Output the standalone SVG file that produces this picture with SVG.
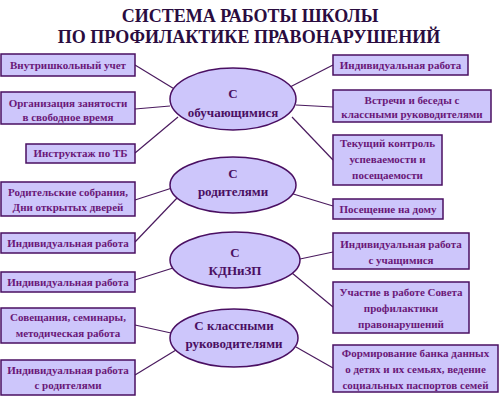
<svg xmlns="http://www.w3.org/2000/svg" width="500" height="400" viewBox="0 0 500 400">
<style>
.title{font-family:"Liberation Serif","Times New Roman",serif;font-weight:bold;font-size:18px;fill:#2a0c40;text-anchor:middle}
.box rect{fill:#cdc6fb;stroke:#4a0f62;stroke-width:1.5}
.box text{font-family:"Liberation Serif","Times New Roman",serif;font-weight:bold;font-size:11px;fill:#6a1878;text-anchor:middle}
.hub ellipse{fill:#cdc6fb;stroke:#4a0f62;stroke-width:1.5}
.hub text{font-family:"Liberation Serif","Times New Roman",serif;font-weight:bold;font-size:13px;fill:#4a0f62;text-anchor:middle}
#connectors line{stroke:#4a1a5e;stroke-width:1.2}
</style>
<rect width="500" height="400" fill="#ffffff"/>
<text class="title" x="250" y="21.5">СИСТЕМА РАБОТЫ ШКОЛЫ</text>
<text class="title" x="249" y="43">ПО ПРОФИЛАКТИКЕ ПРАВОНАРУШЕНИЙ</text>

<g id="connectors">
<line x1="135" y1="65" x2="176" y2="90"/>
<line x1="135" y1="109" x2="170" y2="106"/>
<line x1="135" y1="153" x2="178" y2="117"/>
<line x1="333" y1="65" x2="290" y2="87"/>
<line x1="333" y1="107" x2="296" y2="105"/>
<line x1="333" y1="160" x2="292" y2="117"/>
<line x1="135" y1="200" x2="172" y2="188"/>
<line x1="135" y1="242" x2="178" y2="197"/>
<line x1="333" y1="206" x2="290" y2="193"/>
<line x1="135" y1="280" x2="173" y2="268"/>
<line x1="333" y1="252" x2="300" y2="259"/>
<line x1="333" y1="307" x2="292" y2="273"/>
<line x1="135" y1="325" x2="171" y2="333"/>
<line x1="135" y1="375" x2="176" y2="350"/>
<line x1="333" y1="368" x2="296" y2="347"/>
</g>

<g id="hub-students" class="hub"><ellipse cx="233" cy="99" rx="63" ry="31"/><text x="233" y="98">С</text><text x="233" y="117">обучающимися</text></g>
<g id="hub-parents" class="hub"><ellipse cx="233" cy="185" rx="63" ry="28"/><text x="233" y="178">С</text><text x="233" y="196">родителями</text></g>
<g id="hub-kdn" class="hub"><ellipse cx="235" cy="260" rx="65" ry="28"/><text x="235" y="257">С</text><text x="235" y="275">КДНиЗП</text></g>
<g id="hub-teachers" class="hub"><ellipse cx="234" cy="338" rx="64" ry="29"/><text x="234" y="330">С классными</text><text x="234" y="348">руководителями</text></g>

<g id="l1" class="box"><rect x="1" y="54" width="134" height="22"/><text x="68" y="69">Внутришкольный учет</text></g>
<g id="l2" class="box"><rect x="1" y="92" width="134" height="32"/><text x="68" y="107">Организация занятости</text><text x="68" y="121">в свободное время</text></g>
<g id="l3" class="box"><rect x="26" y="144" width="109" height="19"/><text x="80.5" y="157">Инструктаж по ТБ</text></g>
<g id="l4" class="box"><rect x="1" y="182" width="134" height="34"/><text x="68" y="196">Родительские собрания,</text><text x="68" y="211">Дни открытых дверей</text></g>
<g id="l5" class="box"><rect x="1" y="233" width="134" height="20"/><text x="68" y="247">Индивидуальная работа</text></g>
<g id="l6" class="box"><rect x="1" y="272" width="134" height="20"/><text x="68" y="286">Индивидуальная работа</text></g>
<g id="l7" class="box"><rect x="1" y="308" width="134" height="35"/><text x="68" y="321">Совещания, семинары,</text><text x="68" y="337">методическая работа</text></g>
<g id="l8" class="box"><rect x="1" y="360" width="134" height="35"/><text x="68" y="374">Индивидуальная работа</text><text x="68" y="389">с родителями</text></g>

<g id="r1" class="box"><rect x="333" y="55" width="135" height="20"/><text x="400.5" y="69">Индивидуальная работа</text></g>
<g id="r2" class="box"><rect x="333" y="90" width="158" height="32"/><text x="412" y="104">Встречи и беседы с</text><text x="412" y="118">классными руководителями</text></g>
<g id="r3" class="box"><rect x="333" y="135" width="109" height="50"/><text x="387.5" y="147">Текущий контроль</text><text x="387.5" y="163">успеваемости и</text><text x="387.5" y="179">посещаемости</text></g>
<g id="r4" class="box"><rect x="333" y="199" width="110" height="20"/><text x="388" y="213">Посещение на дому</text></g>
<g id="r5" class="box"><rect x="333" y="233" width="136" height="36"/><text x="401" y="248">Индивидуальная работа</text><text x="401" y="264">с учащимися</text></g>
<g id="r6" class="box"><rect x="333" y="282" width="136" height="51"/><text x="401" y="296">Участие в работе Совета</text><text x="401" y="312">профилактики</text><text x="401" y="328">правонарушений</text></g>
<g id="r7" class="box"><rect x="333" y="345" width="165" height="47"/><text x="415.5" y="357">Формирование банка данных</text><text x="415.5" y="373">о детях и их семьях, ведение</text><text x="415.5" y="389">социальных паспортов семей</text></g>
</svg>
